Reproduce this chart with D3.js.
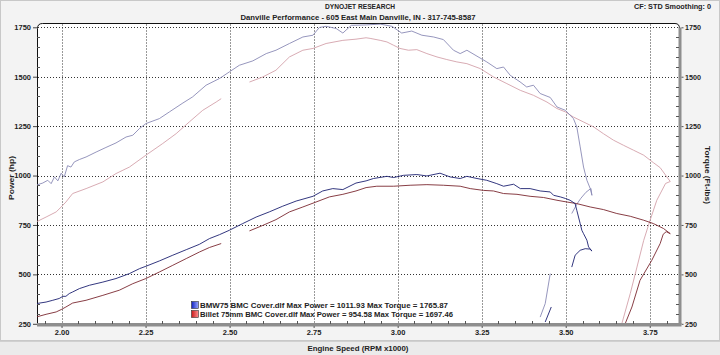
<!DOCTYPE html>
<html><head><meta charset="utf-8">
<script src="https://cdn.jsdelivr.net/npm/d3@7/dist/d3.min.js"></script>
<style>
body{margin:0;background:#f2f2f2}
svg{display:block}
text{font-family:"Liberation Sans",Arial,sans-serif;font-weight:bold;fill:#222}
</style>
</head><body>
<svg id="c" width="720" height="355"></svg>
<script>
// ---------------- data ----------------
const xTicks = [2.00, 2.25, 2.50, 2.75, 3.00, 3.25, 3.50, 3.75];
const yTicks = [250, 500, 750, 1000, 1250, 1500, 1750];
const titleText = "DYNOJET RESEARCH";
const subtitleText = "Danville Performance - 605 East Main Danville, IN - 317-745-8587";
const cornerText = "CF: STD  Smoothing: 0";
const seriesNames = ["BMW75 BMC Cover.dlf", "Billet 75mm BMC Cover.dlf"];
const maxPower = [1011.93, 954.58];
const maxTorque = [1765.87, 1697.46];

const bmwPowerRpm = [1.924,1.954,1.974,1.993,2.004,2.013,2.023,2.033,2.053,2.083,2.123,2.162,2.202,2.232,2.251,2.291,2.331,2.371,2.410,2.440,2.470,2.499,2.539,2.579,2.618,2.658,2.698,2.748,2.777,2.807,2.837,2.876,2.906,2.928,2.968,2.988,3.017,3.057,3.087,3.126,3.156,3.186,3.206,3.236,3.265,3.295,3.315,3.345,3.365,3.394,3.424,3.454,3.464,3.484,3.499,3.513,3.528,3.533,3.543,3.548,3.553,3.563,3.568,3.578,3.572,3.558,3.543,3.528,3.518,null,3.457,3.439];
const bmwPowerHp  = [352,360,369,378,389,389,403,411,428,445,461,479,504,529,541,568,597,625,652,681,701,723,757,790,816,845,871,895,922,934,929,962,973,985,996,990,1001,1005,998,1012,993,985,996,985,976,959,946,956,934,934,922,917,900,892,884,875,858,824,757,723,706,673,639,618,628,630,622,597,537,null,335,259];

const billetPowerRpm = [1.924,1.954,1.984,1.999,2.013,2.033,2.073,2.123,2.172,2.212,2.251,2.291,2.331,2.371,2.410,2.440,2.475,null,2.559,2.599,2.638,2.678,2.718,2.757,2.797,2.837,2.876,2.906,2.938,2.988,3.037,3.087,3.136,3.186,3.216,3.255,3.285,3.315,3.355,3.394,3.434,3.474,3.504,3.533,3.573,3.612,3.652,3.692,3.732,3.761,3.791,3.811,3.799,3.790,3.781,3.756,3.721,3.697,3.677];
const billetPowerHp  = [284,298,310,322,335,355,369,394,420,453,479,512,546,580,613,636,656,null,720,748,777,816,841,866,892,905,922,939,946,946,951,954,951,946,934,925,922,909,905,895,889,875,866,858,841,828,808,794,774,757,732,706,716,703,656,571,470,335,251];

const bmwTorqueRpm = [1.924,1.944,1.959,1.969,1.979,1.989,1.999,2.008,2.018,2.028,2.038,2.053,2.073,2.103,2.132,2.162,2.192,2.212,2.232,2.251,2.291,2.321,2.361,2.390,2.430,2.470,2.499,2.529,2.569,2.609,2.638,2.678,2.718,2.748,2.767,2.787,2.817,2.837,2.862,2.906,2.948,2.983,3.012,3.042,3.072,3.107,3.136,3.166,3.186,3.206,3.236,3.265,3.295,3.315,3.335,3.364,3.384,3.404,3.424,3.454,3.474,3.499,3.523,3.533,3.543,3.553,3.563,3.573,3.578,3.575,3.560,3.545,3.533,3.518,null,3.454,3.439,3.424];
const bmwTorqueFt  = [951,962,976,959,993,973,1012,993,1050,1043,1069,1081,1094,1119,1142,1165,1195,1204,1238,1263,1288,1322,1367,1398,1457,1491,1524,1558,1580,1617,1634,1668,1701,1710,1749,1755,1744,1721,1760,1762,1766,1755,1721,1731,1710,1701,1688,1634,1617,1634,1604,1575,1541,1549,1507,1474,1448,1457,1415,1395,1347,1330,1288,1246,1145,1043,976,934,900,935,915,885,855,808,null,504,352,284];

const billetTorqueRpm = [1.924,1.954,1.984,1.999,2.013,2.033,2.073,2.123,2.162,2.202,2.251,2.301,2.341,2.380,2.420,2.460,2.475,null,2.559,2.599,2.638,2.678,2.718,2.748,2.787,2.837,2.876,2.906,2.918,2.948,2.968,2.988,3.007,3.032,3.057,3.087,3.117,3.146,3.176,3.206,3.246,3.285,3.325,3.365,3.404,3.444,3.474,3.499,3.523,3.553,3.583,3.612,3.642,3.672,3.702,3.732,3.761,3.781,3.801,3.811,3.797,3.771,3.751,3.732,3.712,3.692,3.667];
const billetTorqueFt  = [765,790,816,841,866,909,934,968,1010,1043,1103,1162,1212,1271,1330,1372,1389,null,1473,1499,1533,1600,1634,1643,1668,1684,1690,1697,1694,1684,1676,1659,1643,1634,1637,1617,1600,1587,1575,1566,1541,1499,1465,1431,1406,1372,1339,1322,1296,1271,1246,1212,1179,1153,1128,1103,1065,1040,993,970,960,875,774,672,537,403,251];

const seriesColors = {bmwPower:"#1c2070", billetPower:"#7a2830", bmwTorque:"#8a8ab6", billetTorque:"#d4a2aa"};

// ---------------- layout ----------------
const svg = d3.select("#c");
const L = 37, R = 680, T = 23.5, B = 324;
const x = d3.scaleLinear().domain([1.927, 3.84]).range([L, R]);
const y = d3.scaleLinear().domain([250, 1750]).range([323.8, 27.3]);

// background
svg.append("rect").attr("width",720).attr("height",355).attr("fill","#f3f3f3");
svg.append("rect").attr("x",0.5).attr("y",0.5).attr("width",719).attr("height",340).attr("fill","none").attr("stroke","#c8c8c8");
svg.append("rect").attr("x",0).attr("y",341).attr("width",720).attr("height",14).attr("fill","#ebebeb");
svg.append("line").attr("x1",0).attr("x2",720).attr("y1",341.5).attr("y2",341.5).attr("stroke","#d0d0d0");

// plot area
svg.append("path")
  .attr("d", `M${L},${B} L${L},${T+5} Q${L},${T} ${L+5},${T} L${R-5},${T} Q${R},${T} ${R},${T+5} L${R},${B} Z`)
  .attr("fill","#fff");

svg.append("clipPath").attr("id","clip").append("rect")
  .attr("x",L).attr("y",T).attr("width",R-L).attr("height",B-T);

// grid
const grid = svg.append("g").attr("stroke","#333").attr("stroke-width",1).attr("stroke-dasharray","1,2");
grid.selectAll(".vg").data(xTicks).join("line")
  .attr("x1",d=>Math.round(x(d))+0.5).attr("x2",d=>Math.round(x(d))+0.5)
  .attr("y1",T+1).attr("y2",B-1);
grid.selectAll(".hg").data(yTicks.filter(v=>v>250)).join("line")
  .attr("y1",d=>Math.round(y(d))+0.5).attr("y2",d=>Math.round(y(d))+0.5)
  .attr("x1",L+1).attr("x2",R-1);

// frame
svg.append("path")
  .attr("d", `M${L+0.5},${B} L${L+0.5},${T+5} Q${L+0.5},${T} ${L+5.5},${T} L${R-5},${T} Q${R-0.5},${T} ${R-0.5},${T+5}`)
  .attr("fill","none").attr("stroke","#111").attr("stroke-width",1);

// curves
const lineGen = d3.line().defined(d=>d[1]!=null).x(d=>x(d[0])).y(d=>y(d[1])).curve(d3.curveLinear);
function pts(a,b){return a.map((r,i)=>[r,b[i]]);}
const curves = svg.append("g").attr("clip-path","url(#clip)").attr("fill","none").attr("stroke-width",0.9);
curves.append("path").attr("d",lineGen(pts(billetTorqueRpm,billetTorqueFt))).attr("stroke",seriesColors.billetTorque);
curves.append("path").attr("d",lineGen(pts(bmwTorqueRpm,bmwTorqueFt))).attr("stroke",seriesColors.bmwTorque);
curves.append("path").attr("d",lineGen(pts(billetPowerRpm,billetPowerHp))).attr("stroke",seriesColors.billetPower);
curves.append("path").attr("d",lineGen(pts(bmwPowerRpm,bmwPowerHp))).attr("stroke",seriesColors.bmwPower);

// left axis
const leftAxis = d3.axisLeft(y).tickValues(yTicks).tickSize(4).tickPadding(2).tickFormat(d3.format("d"));
const gl = svg.append("g").attr("transform",`translate(${L},0)`).call(leftAxis);
gl.select(".domain").remove();
gl.selectAll("line").attr("stroke","#444");
gl.selectAll("text").attr("font-size",7.5).attr("font-family","Liberation Sans, Arial").attr("font-weight","bold").attr("fill","#333");
const minorY = d3.range(250,1751,50).filter(v=>v%250!==0);
svg.append("g").selectAll("line").data(minorY).join("line")
  .attr("x1",L).attr("x2",L+3).attr("y1",d=>Math.round(y(d))+0.5).attr("y2",d=>Math.round(y(d))+0.5)
  .attr("stroke","#555");

// right axis
svg.append("rect").attr("x",R-1.5).attr("y",T+4).attr("width",3).attr("height",B-T-4).attr("fill","#8e8e8e");
const rightAxis = d3.axisRight(y).tickValues(yTicks).tickSize(2).tickPadding(1.5).tickFormat(d3.format("d"));
const gr = svg.append("g").attr("transform",`translate(${R+1.5},0)`).call(rightAxis);
gr.select(".domain").remove();
gr.selectAll("line").attr("stroke","#555");
gr.selectAll("text").attr("font-size",7.2).attr("font-family","Liberation Sans, Arial").attr("font-weight","bold").attr("fill","#333");
svg.append("g").selectAll("line").data(minorY).join("line")
  .attr("x1",R-4).attr("x2",R-1).attr("y1",d=>Math.round(y(d))+0.5).attr("y2",d=>Math.round(y(d))+0.5)
  .attr("stroke","#555");

// bottom axis
svg.append("rect").attr("x",L).attr("y",B-1).attr("width",R-L+1.5).attr("height",3.5).attr("fill","#8e8e8e");
const bottomAxis = d3.axisBottom(x).tickValues(xTicks).tickSize(2).tickPadding(1).tickFormat(d3.format(".2f"));
const gb = svg.append("g").attr("transform",`translate(0,${B+2})`).call(bottomAxis);
gb.select(".domain").remove();
gb.selectAll("line").attr("stroke","#555");
gb.selectAll("text").attr("font-size",7.5).attr("font-family","Liberation Sans, Arial").attr("font-weight","bold").attr("fill","#333").attr("dy","0.75em");
const minorX = d3.range(1.95,3.84,0.05).filter(v=>Math.abs(v*4-Math.round(v*4))>0.01);
svg.append("g").selectAll("line").data(minorX).join("line")
  .attr("x1",d=>Math.round(x(d))+0.5).attr("x2",d=>Math.round(x(d))+0.5).attr("y1",B-3).attr("y2",B)
  .attr("stroke","#555");

// titles
svg.append("text").attr("x",360).attr("y",9).attr("text-anchor","middle").attr("font-size",8)
  .attr("textLength",70).attr("lengthAdjust","spacingAndGlyphs").text(titleText);
svg.append("text").attr("x",358).attr("y",20).attr("text-anchor","middle").attr("font-size",8)
  .attr("textLength",235).attr("lengthAdjust","spacingAndGlyphs").text(subtitleText);
svg.append("text").attr("x",711).attr("y",9).attr("text-anchor","end").attr("font-size",8)
  .attr("textLength",77).attr("lengthAdjust","spacingAndGlyphs").text(cornerText);

svg.append("text").attr("transform","translate(14,178) rotate(-90)").attr("text-anchor","middle").attr("font-size",8)
  .attr("textLength",44).attr("lengthAdjust","spacingAndGlyphs").text("Power (hp)");
svg.append("text").attr("transform","translate(705,175) rotate(90)").attr("text-anchor","middle").attr("font-size",8)
  .attr("textLength",58).attr("lengthAdjust","spacingAndGlyphs").text("Torque (Ft-lbs)");
svg.append("text").attr("x",358).attr("y",351).attr("text-anchor","middle").attr("font-size",8)
  .attr("textLength",101).attr("lengthAdjust","spacingAndGlyphs").text("Engine Speed (RPM x1000)");

// legend
const defs = svg.append("defs");
const gradB = defs.append("linearGradient").attr("id","gb").attr("x1",0).attr("x2",1);
gradB.append("stop").attr("offset",0).attr("stop-color","#1020c0");
gradB.append("stop").attr("offset",1).attr("stop-color","#9aa8ff");
const gradR = defs.append("linearGradient").attr("id","gr").attr("x1",0).attr("x2",1);
gradR.append("stop").attr("offset",0).attr("stop-color","#c81818");
gradR.append("stop").attr("offset",1).attr("stop-color","#ff9090");
const legendLens = [248, 253];
seriesNames.forEach((n,i)=>{
  const yy = 301.5 + i*9;
  svg.append("rect").attr("x",191.5).attr("y",yy).attr("width",7).attr("height",7)
    .attr("fill",i===0?"url(#gb)":"url(#gr)").attr("stroke","#333").attr("stroke-width",0.6);
  svg.append("text").attr("x",200).attr("y",yy+6.5).attr("font-size",7.5)
    .attr("textLength",legendLens[i]).attr("lengthAdjust","spacingAndGlyphs")
    .text(`${n} Max Power = ${maxPower[i].toFixed(2)} Max Torque = ${maxTorque[i].toFixed(2)}`);
});
</script>
</body></html>
